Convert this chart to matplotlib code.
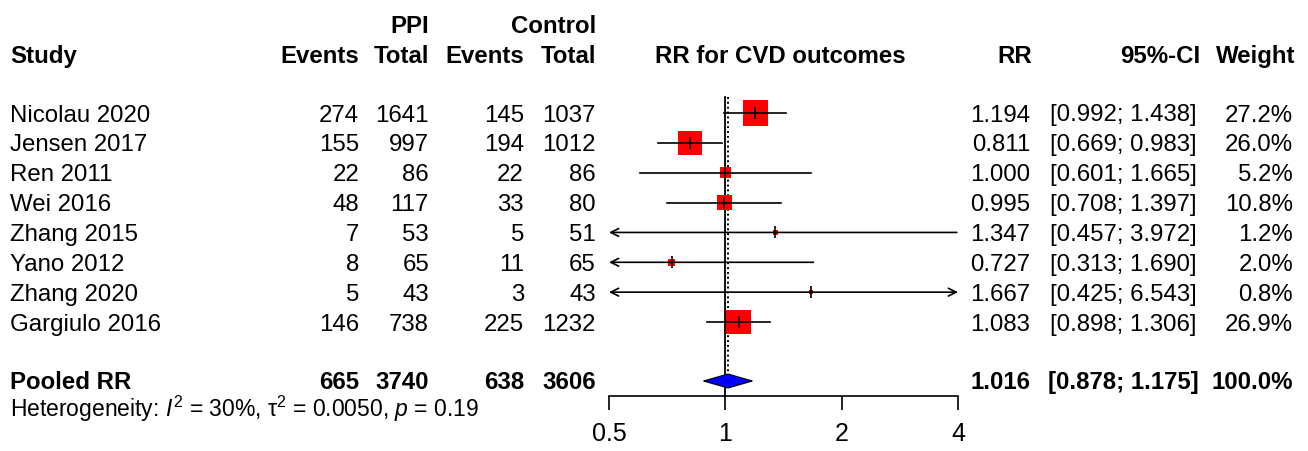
import numpy as np
import matplotlib.pyplot as plt
from matplotlib.ticker import FixedLocator, FixedFormatter, NullLocator

# study data
studies = ["Nicolau 2020", "Jensen 2017", "Ren 2011", "Wei 2016",
           "Zhang 2015", "Yano 2012", "Zhang 2020", "Gargiulo 2016"]
ppi_events = [274, 155, 22, 48, 7, 8, 5, 146]
ppi_total = [1641, 997, 86, 117, 53, 65, 43, 738]
ctrl_events = [145, 194, 22, 33, 5, 11, 3, 225]
ctrl_total = [1037, 1012, 86, 80, 51, 65, 43, 1232]
rr = [1.194, 0.811, 1.000, 0.995, 1.347, 0.727, 1.667, 1.083]
ci_low = [0.992, 0.669, 0.601, 0.708, 0.457, 0.313, 0.425, 0.898]
ci_high = [1.438, 0.983, 1.665, 1.397, 3.972, 1.690, 6.543, 1.306]
weight = [27.2, 26.0, 5.2, 10.8, 1.2, 2.0, 0.8, 26.9]

pooled_counts = [665, 3740, 638, 3606]
pooled_rr, pooled_low, pooled_high = 1.016, 0.878, 1.175

xticks = [0.5, 1, 2, 4]
xticklabels = ["0.5", "1", "2", "4"]

W, H = 1308, 451
FS = 17.3
plt.rcParams['font.family'] = ['Liberation Sans', 'DejaVu Sans']
plt.rcParams['mathtext.fontset'] = 'custom'
plt.rcParams['mathtext.rm'] = 'Liberation Sans'
plt.rcParams['mathtext.it'] = 'Liberation Sans:italic'

fig = plt.figure(figsize=(W / 100, H / 100), dpi=100)

# text layer in pixel coordinates
tx = fig.add_axes([0, 0, 1, 1])
tx.set_xlim(0, W)
tx.set_ylim(H, 0)
tx.axis('off')


def put(x, y, s, ha='right', bold=False, size=FS):
    tx.text(x, y, s, ha=ha, va='baseline', fontsize=size,
            fontweight='bold' if bold else 'normal')


row_y = 113 + 29.86 * np.arange(len(studies))  # row centres
pooled_y = 381
num_cols = [359, 429, 524, 596]
x_rr, x_ci, x_w = 1030, 1123, 1293

# headers
put(429, 33, "PPI", bold=True)
put(596, 33, "Control", bold=True)
put(10, 63, "Study", ha='left', bold=True)
for x, s in zip(num_cols, ["Events", "Total", "Events", "Total"]):
    put(x, 63, s, bold=True)
put(780, 63, "RR for CVD outcomes", ha='center', bold=True)
put(1032, 63, "RR", bold=True)
put(1200, 63, "95%-CI", bold=True)
put(1295, 63, "Weight", bold=True)

# study rows
for i, y in enumerate(row_y):
    b = y + 8.5
    put(10, b, studies[i], ha='left')
    for x, v in zip(num_cols, [ppi_events[i], ppi_total[i], ctrl_events[i], ctrl_total[i]]):
        put(x, b, str(v))
    put(x_rr, b, f"{rr[i]:.3f}")
    put(x_ci, b, f"[{ci_low[i]:.3f}; {ci_high[i]:.3f}]", ha='center')
    put(x_w, b, f"{weight[i]:.1f}%")

# pooled row
b = pooled_y + 8
put(10, b, "Pooled RR", ha='left', bold=True)
for x, v in zip(num_cols, pooled_counts):
    put(x, b, str(v), bold=True)
put(x_rr, b, f"{pooled_rr:.3f}", bold=True)
put(x_ci, b, f"[{pooled_low:.3f}; {pooled_high:.3f}]", ha='center', bold=True)
put(x_w, b, "100.0%", bold=True)
put(10, 417, r"Heterogeneity: $I^2$ = 30%, τ$^2$ = 0.0050, $p$ = 0.19", ha='left', size=16.5)

# forest panel
x0, x1, ytop, ybot = 609, 958, 97, 396
ax = fig.add_axes([x0 / W, 1 - ybot / H, (x1 - x0) / W, (ybot - ytop) / H])
ax.set_xscale('log', base=2)
ax.set_xlim(0.5, 4)
ax.set_ylim(ybot, ytop)
ax.patch.set_alpha(0)
for s in ['top', 'left', 'right']:
    ax.spines[s].set_visible(False)
ax.spines['bottom'].set_linewidth(1.2)
ax.yaxis.set_major_locator(NullLocator())
ax.xaxis.set_major_locator(FixedLocator(xticks))
ax.xaxis.set_major_formatter(FixedFormatter(xticklabels))
ax.xaxis.set_minor_locator(NullLocator())
ax.tick_params(axis='x', length=10, width=1.2, pad=9, labelsize=18)

ax.plot([1, 1], [ytop, ybot], color='black', lw=1.3, zorder=1, clip_on=False)
ax.plot([pooled_rr, pooled_rr], [ytop, 372], color='black', lw=1.4, ls=(0, (1, 1.5)), zorder=1)

lo_lim, hi_lim = 0.5, 4
arrow = dict(lw=1.2, color='black', shrinkA=0, shrinkB=0, mutation_scale=14)
for i, y in enumerate(row_y):
    lo, hi = ci_low[i], ci_high[i]
    a, c = max(lo, lo_lim), min(hi, hi_lim)
    side = 4.8 * np.sqrt(weight[i]) * 0.72
    ax.scatter([rr[i]], [y], marker='s', s=side ** 2, color='red', edgecolors='none', zorder=2)
    if lo < lo_lim and hi > hi_lim:
        ax.annotate('', xy=(a, y), xytext=(c, y), arrowprops=dict(arrowstyle='<->', **arrow))
    elif lo < lo_lim:
        ax.annotate('', xy=(a, y), xytext=(c, y), arrowprops=dict(arrowstyle='->', **arrow))
    elif hi > hi_lim:
        ax.annotate('', xy=(c, y), xytext=(a, y), arrowprops=dict(arrowstyle='->', **arrow))
    else:
        ax.plot([a, c], [y, y], color='black', lw=1.2, zorder=3)
    ax.plot([rr[i]], [y], marker='|', ms=8, mew=1.2, color='black', zorder=4)

# pooled diamond
ax.fill([pooled_low, pooled_rr, pooled_high, pooled_rr],
        [pooled_y, pooled_y - 7, pooled_y, pooled_y + 7],
        facecolor='#0000FF', edgecolor='black', lw=0.8, zorder=3)

fig.savefig("out.png", dpi=100)
